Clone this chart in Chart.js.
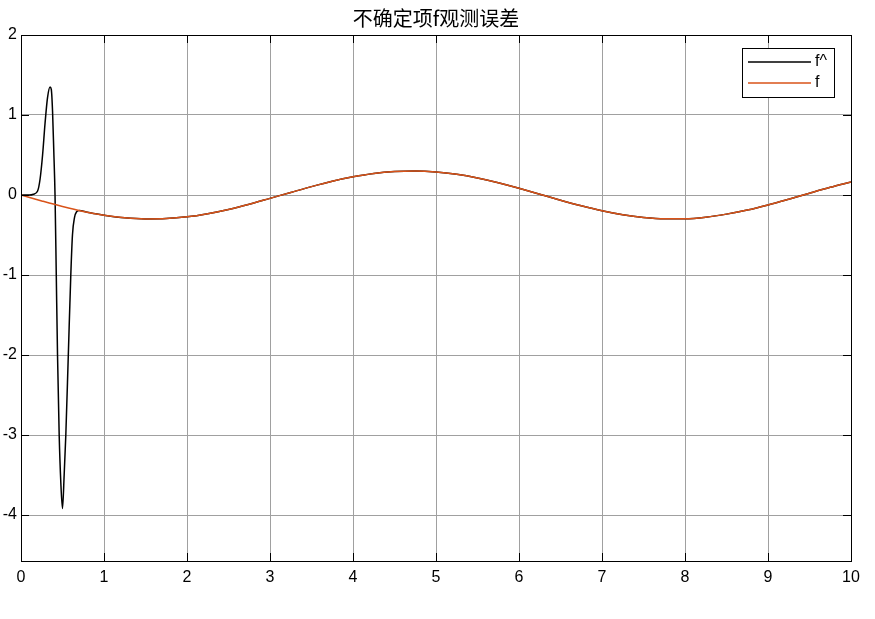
<!DOCTYPE html>
<html><head><meta charset="utf-8">
<script src="https://cdn.jsdelivr.net/npm/chart.js@4"></script>
<style>html,body{margin:0;padding:0;background:#fff}#wrap{width:875px;height:619px}</style>
</head><body><div id="wrap"><canvas id="c" width="875" height="619"></canvas></div>
<script>
const titleText = '不确定项f观测误差';
const xTicks = [0,1,2,3,4,5,6,7,8,9,10];
const yTicks = [-4,-3,-2,-1,0,1,2];
const xMin = 0, xMax = 10, yMin = -4.575, yMax = 2;

// f (reference signal)
const fX = [0,0.25,0.5,0.75,1,1.25,1.5,1.75,2,2.25,2.5,2.75,3,3.25,3.5,3.75,4,4.25,4.5,4.75,5,5.25,5.5,5.75,6,6.25,6.5,6.75,7,7.25,7.5,7.75,8,8.25,8.5,8.75,9,9.25,9.5,9.75,10];
const fY = [0,-0.074,-0.144,-0.205,-0.252,-0.285,-0.299,-0.295,-0.273,-0.233,-0.180,-0.115,-0.042,0.032,0.105,0.172,0.227,0.269,0.293,0.300,0.288,0.258,0.212,0.153,0.084,0.010,-0.065,-0.135,-0.197,-0.247,-0.281,-0.298,-0.297,-0.277,-0.239,-0.188,-0.124,-0.052,0.023,0.096,0.163];

// f^ (observer estimate) transient part
const fhX = [0,0.1,0.15,0.2,0.23,0.26,0.29,0.32,0.35,0.365,0.38,0.395,0.41,0.425,0.44,0.46,0.48,0.5,0.52,0.54,0.57,0.6,0.62,0.645,0.67,0.7,0.8,0.9,1.0];
const fhY = [0,0.0,0.01,0.05,0.2,0.5,0.9,1.22,1.35,1.32,1.05,0.55,0.0,-1.0,-2.0,-3.0,-3.6,-3.92,-3.5,-3.0,-2.0,-1.0,-0.5,-0.28,-0.21,-0.195,-0.215,-0.235,-0.252];

const fData = fX.map((x,i)=>({x, y:fY[i]}));
const fhData = fhX.map((x,i)=>({x, y:fhY[i]})).concat(fData.filter(p=>p.x>1.0));

const BOX = {left:21, top:35, right:851, bottom:561};

const framePlugin = {
  id:'frame',
  afterDatasetsDraw(chart){
    const ctx = chart.ctx, a = chart.chartArea;
    const xs = chart.scales.x, ys = chart.scales.y;
    ctx.save();
    ctx.strokeStyle = '#000'; ctx.lineWidth = 1;
    ctx.beginPath();
    xTicks.forEach(v=>{
      const px = Math.round(xs.getPixelForValue(v))+0.5;
      ctx.moveTo(px, a.bottom); ctx.lineTo(px, a.bottom-8);
      ctx.moveTo(px, a.top); ctx.lineTo(px, a.top+8);
    });
    yTicks.forEach(v=>{
      const py = Math.round(ys.getPixelForValue(v))+0.5;
      ctx.moveTo(a.left, py); ctx.lineTo(a.left+8, py);
      ctx.moveTo(a.right, py); ctx.lineTo(a.right-8, py);
    });
    ctx.stroke();
    ctx.strokeRect(Math.round(a.left)+0.5, Math.round(a.top)+0.5, Math.round(a.right-a.left), Math.round(a.bottom-a.top));
    // title centred over plot area
    ctx.fillStyle = '#000';
    ctx.font = '20px "Noto Sans CJK SC", sans-serif';
    ctx.textAlign = 'center'; ctx.textBaseline = 'middle';
    ctx.fillText(titleText, (a.left+a.right)/2, 18);
    // legend
    const lx = 742, ly = 48, lw = 92, lh = 49;
    ctx.fillStyle = '#fff';
    ctx.fillRect(lx, ly, lw, lh);
    ctx.strokeStyle = '#000';
    ctx.strokeRect(lx+0.5, ly+0.5, lw, lh);
    const items = chart.data.datasets.slice().sort((p,q)=>q.order-p.order);
    items.forEach((d,i)=>{
      const yy = ly + 14 + i*21;
      ctx.strokeStyle = d.borderColor; ctx.lineWidth = 1.5;
      ctx.beginPath(); ctx.moveTo(748, yy); ctx.lineTo(811, yy); ctx.stroke();
      ctx.fillStyle = '#000';
      ctx.font = '16px "Liberation Sans", Arial, sans-serif';
      ctx.textBaseline = 'middle'; ctx.textAlign = 'left';
      ctx.fillText(d.label, 815, yy);
    });
    ctx.restore();
  }
};

new Chart(document.getElementById('c'), {
  type:'line',
  data:{datasets:[
    {label:'f^', data:fhData, borderColor:'#000000', borderWidth:1.5, pointRadius:0, cubicInterpolationMode:'monotone', order:1},
    {label:'f', data:fData, borderColor:'#D95319', borderWidth:1.5, pointRadius:0, cubicInterpolationMode:'monotone', order:0}
  ]},
  options:{
    responsive:false, animation:false, parsing:true,
    layout:{padding:{left:0, right:875-BOX.right, top:BOX.top, bottom:0}},
    plugins:{
      legend:{display:false}, tooltip:{enabled:false}, title:{display:false}
    },
    scales:{
      x:{type:'linear', min:xMin, max:xMax,
        afterBuildTicks:s=>{s.ticks = xTicks.map(v=>({value:v}));},
        afterFit:s=>{s.height = 619-BOX.bottom;},
        grid:{color:'#a0a0a0', drawTicks:false, lineWidth:1},
        border:{display:false},
        ticks:{color:'#000', padding:7, font:{family:'"Liberation Sans", Arial, sans-serif', size:16}, maxRotation:0}
      },
      y:{type:'linear', min:yMin, max:yMax,
        afterBuildTicks:s=>{s.ticks = yTicks.map(v=>({value:v}));},
        afterFit:s=>{s.width = BOX.left;},
        grid:{color:'#a0a0a0', drawTicks:false, lineWidth:1},
        border:{display:false},
        ticks:{color:'#000', padding:4, font:{family:'"Liberation Sans", Arial, sans-serif', size:16}}
      }
    }
  },
  plugins:[framePlugin]
});
</script></body></html>
